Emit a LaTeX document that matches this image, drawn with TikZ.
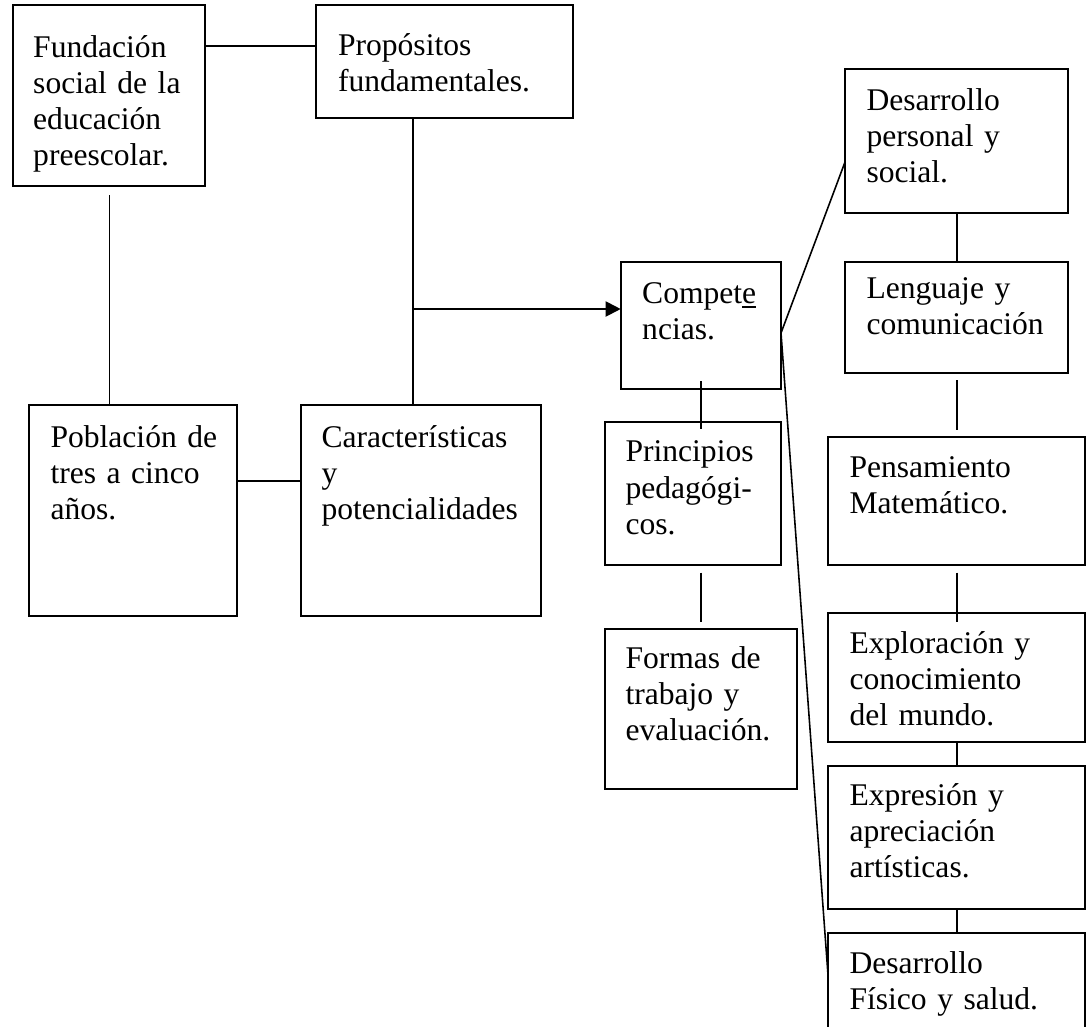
\documentclass[tikz,border=0pt]{standalone}
\usepackage{fontspec}
\setmainfont{Liberation Serif}
\usetikzlibrary{arrows.meta,fit,calc}
\begin{document}
\begin{tikzpicture}[x=0.38pt,y=-0.38pt,
  box/.style={draw,line width=0.75pt,inner sep=0pt,outer sep=0pt},
  txt/.style={anchor=base west,inner sep=0pt,align=left,text width=100pt,
    font=\fontsize{12pt}{13.8pt}\selectfont},
  link/.style={line width=0.75pt},
  slant/.style={line width=0.6pt},
  tip/.style={-{Triangle[length=5.7pt,width=5.7pt]}}]
\useasboundingbox (0,0) rectangle (1087,1026);
\clip (0,0) rectangle (1087,1026);
% boxes
\node[box,fit={(13,5) (205,186)}] (b1) {};
\node[box,fit={(316,5) (573,118)}] (b2) {};
\node[box,fit={(28.6,405) (237,616)}] (b3) {};
\node[box,fit={(300.6,405) (541,616)}] (b4) {};
\node[box,fit={(620.7,261.7) (781,389)}] (b5) {};
\node[box,fit={(605,421.7) (781,565)}] (b6) {};
\node[box,fit={(605,629) (796.7,789)}] (b7) {};
\node[box,fit={(845,69) (1068,213)}] (b8) {};
\node[box,fit={(845,261.7) (1068,373)}] (b9) {};
\node[box,fit={(828,437) (1085,565)}] (b10) {};
\node[box,fit={(828,613) (1085,741.7)}] (b11) {};
\node[box,fit={(828,765.7) (1085,909)}] (b12) {};
\node[box,fit={(828,933) (1085,1060)}] (b13) {};
% texts
\node[txt] (t1) at (32.7,57) {Fundación\\social de la\\educación\\preescolar.};
\node[txt] (t2) at (337.5,55) {Propósitos\\fundamentales.};
\node[txt] (t3) at (50,447) {Población de\\tres a cinco\\años.};
\node[txt] (t4) at (321,447) {Características\\y\\potencialidades};
\node[txt] (t5) at (641.7,303) {Compet\underline{e}\\ncias.};
\node[txt] (t6) at (625,461.7) {Principios\\pedagógi-\\cos.};
\node[txt] (t7) at (625,668) {Formas de\\trabajo y\\evaluación.};
\node[txt] (t8) at (866,110) {Desarrollo\\personal y\\social.};
\node[txt] (t9) at (866,298) {Lenguaje y\\comunicación};
\node[txt] (t10) at (849,477) {Pensamiento\\Matemático.};
\node[txt] (t11) at (849,653) {Exploración y\\conocimiento\\del mundo.};
\node[txt] (t12) at (849,805) {Expresión y\\apreciación\\artísticas.};
\node[txt] (t13) at (849,973) {Desarrollo\\Físico y salud.};
% connectors
\draw[link] (b1.east |- 0,46) -- (b2.west |- 0,46);
\coordinate (g1) at (109.5,195);
\draw[link] (g1) -- (g1 |- b3.north);
\draw[link] (b3.east |- 0,481) -- (b4.west |- 0,481);
\draw[link] (b2.south -| 412.6,0) -- (b4.north -| 412.6,0);
\coordinate (j1) at (412.6,309);
\draw[link,tip] (j1) -- (b5.west |- j1);
\coordinate (c5) at (781,333);
\draw[slant] (c5) -- (b8.west |- 0,162);
\draw[slant] (c5) -- (b13.west |- 0,975);
\draw[link] ($(b5.south)+(0,-8)$) -- ($(b5.south |- b6.north)+(0,7.3)$);
\draw[link] ($(b5.south |- b6.south)+(0,7.7)$) -- ($(b5.south |- b7.north)+(0,-7.3)$);
\draw[link] (b8.south) -- (b9.north);
\draw[link] ($(b9.south)+(0,7)$) -- ($(b10.north)+(0,-7)$);
\draw[link] ($(b10.south)+(0,7.7)$) -- ($(b11.north)+(0,8.7)$);
\draw[link] (b11.south) -- (b12.north);
\draw[link] (b12.south) -- (b13.north);
\end{tikzpicture}
\end{document}
